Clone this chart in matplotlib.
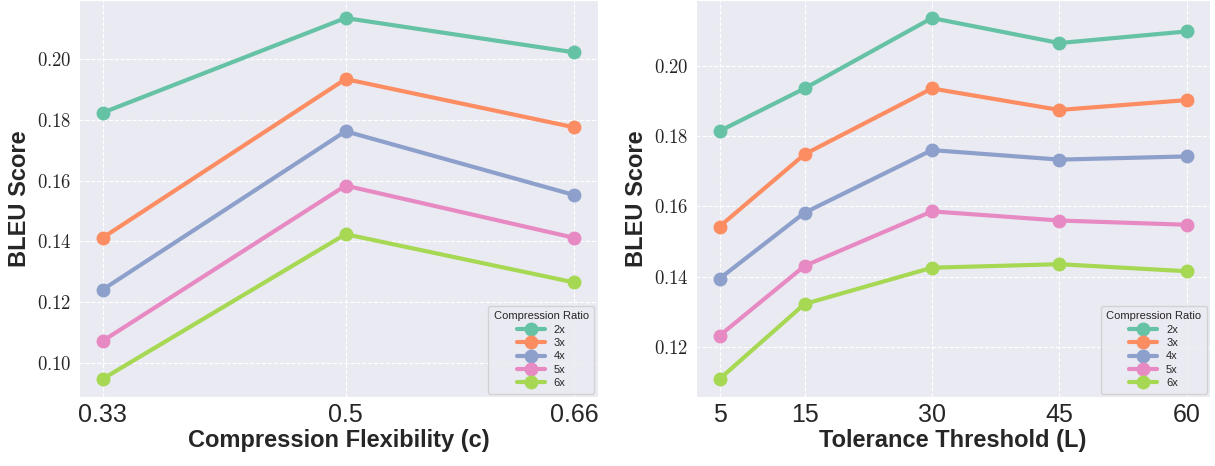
import matplotlib
matplotlib.use("Agg")
from matplotlib import pyplot as plt
from matplotlib.ticker import FuncFormatter
import seaborn as sns

# data
ratios = ["2x", "3x", "4x", "5x", "6x"]

flex_x = [0.33, 0.5, 0.66]
flex_bleu = {
    "2x": [0.1824, 0.2136, 0.2023],
    "3x": [0.1412, 0.1935, 0.1776],
    "4x": [0.1241, 0.1763, 0.1553],
    "5x": [0.1072, 0.1584, 0.1412],
    "6x": [0.0947, 0.1424, 0.1265],
}

tol_x = [5, 15, 30, 45, 60]
tol_bleu = {
    "2x": [0.1814, 0.1935, 0.2135, 0.2064, 0.2097],
    "3x": [0.1543, 0.1748, 0.1935, 0.1874, 0.1902],
    "4x": [0.1395, 0.1582, 0.1760, 0.1733, 0.1742],
    "5x": [0.1233, 0.1431, 0.1586, 0.1560, 0.1548],
    "6x": [0.1110, 0.1323, 0.1426, 0.1436, 0.1416],
}

sns.set_style("darkgrid", {"grid.linestyle": "--"})
plt.rcParams["font.family"] = ["Liberation Sans", "DejaVu Sans"]
plt.rcParams["mathtext.fontset"] = "cm"

colors = sns.color_palette("Set2", len(ratios))


def draw(ax, x, data, xlabel):
    for c, r in zip(colors, ratios):
        ax.plot(x, data[r], marker="o", markersize=9, linewidth=3,
                color=c, label=r)
    ax.set_xticks(x)
    ax.set_xticklabels([str(v) for v in x], fontsize=18)
    ax.yaxis.set_major_formatter(FuncFormatter(lambda v, p: "$%.2f$" % v))
    ax.tick_params(axis="y", labelsize=13.5, pad=2)
    ax.tick_params(axis="x", pad=1)
    ax.set_xlabel(xlabel, fontsize=17, fontweight="bold", labelpad=1)
    ax.set_ylabel("BLEU Score", fontsize=17, fontweight="bold", labelpad=4)
    leg = ax.legend(title="Compression Ratio", loc="lower right",
                    fontsize=8, title_fontsize=8, frameon=True,
                    borderpad=0.5, labelspacing=0.3, handlelength=2.5,
                    borderaxespad=0.3)
    leg.get_frame().set_edgecolor("#cccccc")


fig = plt.figure(figsize=(12.15, 4.66), dpi=100)
ax1 = fig.add_axes([0.065, 0.148, 0.427, 0.852])
ax2 = fig.add_axes([0.573, 0.148, 0.423, 0.852])

draw(ax1, flex_x, flex_bleu, "Compression Flexibility (c)")
draw(ax2, tol_x, tol_bleu, "Tolerance Threshold (L)")

plt.savefig("out.png", dpi=100)
